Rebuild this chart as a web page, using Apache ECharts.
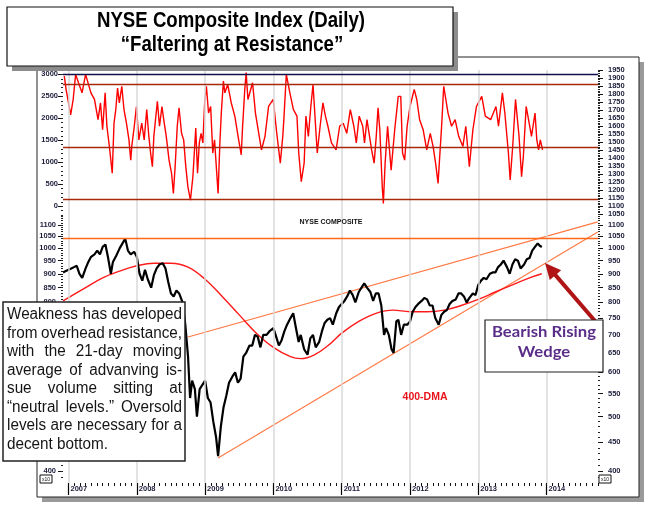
<!DOCTYPE html>
<html><head><meta charset="utf-8">
<script src="https://cdn.jsdelivr.net/npm/echarts@6/dist/echarts.min.js"></script>
<style>html,body{margin:0;padding:0;background:#fff}#c{width:648px;height:510px}</style>
</head><body><div id="c"></div>
<script>
// ---------------- DATA ----------------
const yearTicks = [2007, 2008, 2009, 2010, 2011, 2012, 2013, 2014];
const advLeftLabels = [0, 500, 1000, 1500, 2000, 2500, 3000];
const advRightLabels = [1050,1100,1150,1200,1250,1300,1350,1400,1450,1500,1550,1600,1650,1700,1750,1800,1850,1900,1950];
const priceLabels = [400,450,500,550,600,650,700,750,800,850,900,950,1000,1050,1100];

// 21-day MA of advancing issue volume (upper panel)
const advYears = [2006.938,2006.964,2007.000,2007.031,2007.068,2007.104,2007.146,2007.198,2007.250,2007.276,2007.328,2007.380,2007.432,2007.468,2007.499,2007.536,2007.562,2007.598,2007.640,2007.666,2007.692,2007.718,2007.744,2007.780,2007.812,2007.848,2007.885,2007.911,2007.926,2007.963,2007.994,2008.030,2008.072,2008.108,2008.145,2008.176,2008.202,2008.228,2008.249,2008.301,2008.332,2008.368,2008.394,2008.431,2008.472,2008.509,2008.535,2008.561,2008.592,2008.618,2008.655,2008.686,2008.717,2008.748,2008.785,2008.821,2008.863,2008.889,2008.915,2008.941,2008.967,2008.993,2009.019,2009.050,2009.081,2009.112,2009.138,2009.190,2009.216,2009.237,2009.268,2009.289,2009.331,2009.383,2009.435,2009.487,2009.529,2009.549,2009.581,2009.601,2009.627,2009.695,2009.737,2009.825,2009.877,2009.929,2009.997,2010.049,2010.101,2010.137,2010.153,2010.189,2010.241,2010.293,2010.345,2010.371,2010.408,2010.450,2010.476,2010.512,2010.548,2010.580,2010.642,2010.684,2010.725,2010.762,2010.798,2010.850,2010.918,2010.970,2011.022,2011.074,2011.126,2011.178,2011.214,2011.256,2011.308,2011.334,2011.370,2011.438,2011.475,2011.506,2011.532,2011.558,2011.594,2011.610,2011.636,2011.672,2011.724,2011.776,2011.828,2011.865,2011.891,2011.922,2011.958,2012.000,2012.062,2012.099,2012.141,2012.193,2012.245,2012.297,2012.338,2012.375,2012.411,2012.463,2012.494,2012.557,2012.609,2012.661,2012.713,2012.775,2012.817,2012.869,2012.921,2012.973,2013.051,2013.103,2013.181,2013.259,2013.296,2013.353,2013.389,2013.441,2013.467,2013.504,2013.545,2013.597,2013.634,2013.660,2013.701,2013.753,2013.779,2013.831,2013.857,2013.883,2013.909,2013.941];
const advValues = [2960,2660,2350,2080,2430,3000,2810,2580,3000,3040,2580,2430,1970,2350,1740,2580,1820,1360,750,1890,2200,2690,2350,2730,2200,1890,1510,1050,1360,1820,2270,1510,1890,1510,2200,1590,1210,900,1590,2390,1820,2270,1970,1590,1050,750,290,900,1820,2240,1660,1510,900,440,140,670,1780,750,1440,1660,1440,2350,2730,2120,2270,1210,1510,290,1440,2120,2850,2580,2770,2350,2050,1550,1170,1820,2660,3040,2430,2810,2120,1280,1590,2270,2430,1660,980,1590,1970,3000,2580,2200,2050,1210,560,980,2050,1590,2270,2770,1210,1820,2350,2050,1820,1440,1280,1820,1890,1660,2200,1820,1440,2050,1820,1440,1970,1280,980,1590,2240,1740,440,60,980,1820,820,1740,2500,2500,1210,1050,1820,2270,2660,2430,1970,1740,1280,1660,1360,980,520,1820,2730,2120,1820,1970,1590,1360,1820,900,1740,2270,2500,2050,1970,2270,1820,2580,2120,1210,600,1360,2430,1590,670,1130,2270,1820,1590,2120,1510,1280,1510,1280];
const advLevels = [3000, 2770, 1350, 160];

// NYSE Composite (x10), lower panel
const nyaYears = [2006.92,2006.96,2007.0,2007.04,2007.08,2007.12,2007.16,2007.2,2007.25,2007.29,2007.33,2007.38,2007.42,2007.46,2007.5,2007.54,2007.58,2007.62,2007.65,2007.7,2007.75,2007.79,2007.83,2007.87,2007.91,2007.96,2008.0,2008.04,2008.08,2008.12,2008.16,2008.21,2008.25,2008.29,2008.33,2008.38,2008.42,2008.46,2008.5,2008.54,2008.58,2008.62,2008.67,2008.71,2008.75,2008.78,2008.81,2008.85,2008.88,2008.92,2008.96,2009.0,2009.04,2009.08,2009.12,2009.16,2009.19,2009.23,2009.27,2009.31,2009.35,2009.4,2009.44,2009.48,2009.52,2009.56,2009.6,2009.65,2009.69,2009.73,2009.77,2009.81,2009.85,2009.9,2009.94,2010.0,2010.04,2010.08,2010.12,2010.16,2010.2,2010.25,2010.29,2010.33,2010.37,2010.4,2010.45,2010.5,2010.54,2010.58,2010.62,2010.67,2010.71,2010.75,2010.79,2010.83,2010.87,2010.92,2010.96,2011.0,2011.04,2011.08,2011.12,2011.16,2011.2,2011.25,2011.29,2011.33,2011.37,2011.42,2011.46,2011.5,2011.54,2011.58,2011.62,2011.65,2011.69,2011.73,2011.76,2011.8,2011.83,2011.87,2011.91,2011.96,2012.0,2012.04,2012.08,2012.12,2012.17,2012.21,2012.25,2012.29,2012.33,2012.37,2012.42,2012.46,2012.5,2012.54,2012.58,2012.62,2012.67,2012.71,2012.75,2012.79,2012.83,2012.87,2012.92,2012.96,2013.0,2013.04,2013.08,2013.12,2013.17,2013.21,2013.25,2013.29,2013.33,2013.37,2013.42,2013.46,2013.5,2013.54,2013.58,2013.62,2013.67,2013.71,2013.75,2013.79,2013.83,2013.87,2013.9,2013.93];
const nyaValues = [905,910,915,920,925,930,900,885,920,945,965,975,990,975,1005,1015,960,900,945,970,1000,1020,1040,990,975,985,
965,900,875,915,880,850,895,920,935,940,920,870,830,820,840,830,800,730,640,540,580,560,500,560,570,
580,540,530,490,460,425,480,520,545,575,590,600,575,585,640,650,670,670,700,695,665,700,700,710,
720,695,670,685,710,730,750,765,720,680,700,660,645,690,700,665,680,710,735,745,750,730,765,785,
795,805,820,840,825,800,835,850,865,850,835,805,830,830,790,700,720,700,660,650,740,745,700,730,730,
740,770,785,795,805,815,810,790,790,750,730,760,770,775,795,805,810,830,830,820,800,815,830,825,
860,875,885,880,900,905,905,925,935,950,925,900,935,955,950,920,935,955,960,990,1005,1020,1010,1005];

// 400-day moving average
const dmaYears = [2006.92,2007.25,2007.5,2007.75,2008.0,2008.25,2008.5,2008.75,2009.0,2009.25,2009.5,2009.75,2010.0,2010.25,2010.4,2010.6,2010.8,2011.0,2011.25,2011.5,2011.75,2012.0,2012.25,2012.5,2012.75,2013.0,2013.25,2013.5,2013.75,2013.93];
const dmaValues = [805,850,885,910,930,940,940,925,880,820,760,705,665,640,635,645,670,705,740,765,775,770,770,775,790,810,835,860,885,900];

// Trend lines
const resistanceValue = 1043;
const upperWedgeYears = [2008.75, 2014.75];
const upperWedgeValues = [694, 1114];
const lowerWedgeYears = [2009.19, 2014.75];
const lowerWedgeValues = [422, 1069];

// ---------------- CHART ----------------
const X_MIN = 2006.919, X_MAX = 2014.753;
function zip(a, b) { return a.map((v, i) => [v, b[i]]); }
function seq(a, b, s) { const r = []; for (let v = a; v <= b + 1e-9; v += s) r.push(Math.round(v * 1000) / 1000); return r; }
const monthTicks = [];
for (let y = 2006; y <= 2014; y++) for (let m = 0; m < 12; m++) { const v = y + m / 12; if (v >= X_MIN && v <= X_MAX) monthTicks.push(v); }

const AXF = { fontSize: 7.5, fontWeight: 'bold', fontFamily: "'Liberation Sans', Arial, sans-serif", color: '#1b1b3a' };
const fmt = v => String(Math.round(v));
function yAx(o) {
  return Object.assign({ axisLine: { show: false }, splitLine: { show: false }, axisTick: { show: false }, axisLabel: { show: false } }, o);
}
function majorY(grid, type, min, max, pos, labels, margin) {
  return yAx({ gridIndex: grid, type: type, min: min, max: max, position: pos, logBase: 10,
    axisTick: { show: true, customValues: labels, length: 5, lineStyle: { color: '#111', width: 1 } },
    axisLabel: Object.assign({ show: true, customValues: labels, formatter: fmt, margin: margin }, AXF) });
}
function minorY(grid, type, min, max, pos, vals) {
  return yAx({ gridIndex: grid, type: type, min: min, max: max, position: pos, logBase: 10,
    axisTick: { show: true, customValues: vals, length: 2, lineStyle: { color: '#222', width: 1 } } });
}
const ML = { symbol: ['none', 'none'], silent: true, animation: false, label: { show: false } };
const gridLineData = yearTicks.map(y => ({ xAxis: y }));

// text measuring
const mctx = document.createElement('canvas').getContext('2d');
function tw(s, font) { mctx.font = font; return mctx.measureText(s).width; }

const graphics = [];
// chart frame
graphics.push({ type: 'rect', z: -2, shape: { x: 42, y: 62, width: 602, height: 440 }, style: { fill: '#9a9a9a' } });
graphics.push({ type: 'rect', z: -1, shape: { x: 37, y: 57, width: 602, height: 440 }, style: { fill: '#fff', stroke: '#222', lineWidth: 1 } });
// title box
graphics.push({ type: 'rect', z: 99, shape: { x: 12, y: 12, width: 446, height: 59 }, style: { fill: '#8c8c8c' } });
graphics.push({ type: 'rect', z: 100, shape: { x: 7, y: 7, width: 446, height: 59 }, style: { fill: '#fff', stroke: '#111', lineWidth: 1.2 } });
const TFAM = "'Liberation Sans', Arial, sans-serif";
const t1 = 'NYSE Composite Index (Daily)', t2 = '\u201CFaltering at Resistance\u201D';
const tFont = 'bold 22.5px ' + TFAM;
const tScale = Math.min(1, 268 / tw(t1, tFont));
graphics.push({ type: 'text', z: 101, x: 231, y: 21, scaleX: tScale, style: { x: 0, y: 0, text: t1, font: tFont, fill: '#000', align: 'center', verticalAlign: 'middle' } });
graphics.push({ type: 'text', z: 101, x: 232, y: 45, scaleX: tScale, style: { x: 0, y: 0, text: t2, font: tFont, fill: '#000', align: 'center', verticalAlign: 'middle' } });

// annotation box with justified text
graphics.push({ type: 'rect', z: 100, shape: { x: 3, y: 302, width: 182, height: 159 }, style: { fill: '#fff', stroke: '#222', lineWidth: 1.5 } });
const noteLines = ['Weakness has developed', 'from overhead resistance,', 'with the 21-day moving', 'average of advanving is-', 'sue volume sitting at', '\u201Cneutral levels.\u201D Oversold', 'levels are necessary for a', 'decent bottom.'];
const NFAM = "'Liberation Sans', Arial, sans-serif";
const NX0 = 7, NW = 175;
const nSize = 16;
const nFont = nSize + 'px ' + NFAM;
let nScale = 1;
noteLines.slice(0, -1).forEach(l => {
  const ws = l.split(' ');
  const w = ws.reduce((s, x) => s + tw(x, nFont), 0);
  const avail = NW - (ws.length - 1) * 3.5;
  nScale = Math.min(nScale, avail / w);
});
const baselines = [320, 338.5, 357, 375.5, 394, 412.5, 431, 449.5];
noteLines.forEach((l, i) => {
  const ws = l.split(' ');
  const widths = ws.map(w => tw(w, nFont) * nScale);
  const total = widths.reduce((a, b) => a + b, 0);
  const last = i === noteLines.length - 1;
  const gap = last ? tw(' ', nFont) * nScale : (NW - total) / (ws.length - 1);
  let x = NX0;
  ws.forEach((w, j) => {
    graphics.push({ type: 'text', z: 101, x: x, y: baselines[i] - 5.2, scaleX: nScale, style: { x: 0, y: 0, text: w, font: nFont, fill: '#151515', align: 'left', verticalAlign: 'middle' } });
    x += widths[j] + gap;
  });
});

// wedge box
graphics.push({ type: 'rect', z: 100, shape: { x: 485, y: 320, width: 118, height: 52 }, style: { fill: '#fff', stroke: '#222', lineWidth: 1.2 } });
const WFAM = "Lato, 'DejaVu Sans', sans-serif";
const wFont = 'bold 15px ' + WFAM;
const wScale = 104 / tw('Bearish Rising', wFont);
graphics.push({ type: 'text', z: 101, x: 544, y: 332, scaleX: wScale, style: { x: 0, y: 0, text: 'Bearish Rising', font: wFont, fill: '#5a2e88', align: 'center', verticalAlign: 'middle' } });
graphics.push({ type: 'text', z: 101, x: 544, y: 352, scaleX: wScale, style: { x: 0, y: 0, text: 'Wedge', font: wFont, fill: '#5a2e88', align: 'center', verticalAlign: 'middle' } });

// arrow
(function () {
  const tail = [595, 321], tip = [545, 263];
  const dx = tip[0] - tail[0], dy = tip[1] - tail[1], L = Math.hypot(dx, dy);
  const ux = dx / L, uy = dy / L, nx = -uy, ny = ux;
  const hl = 16, hw = 7.5;
  const bx = tip[0] - ux * hl, by = tip[1] - uy * hl;
  graphics.push({ type: 'line', z: 60, shape: { x1: tail[0], y1: tail[1], x2: bx + ux * 2, y2: by + uy * 2 }, style: { stroke: '#b01414', lineWidth: 4 } });
  graphics.push({ type: 'polygon', z: 60, shape: { points: [[tip[0], tip[1]], [bx + nx * hw, by + ny * hw], [bx - nx * hw, by - ny * hw]] }, style: { fill: '#b01414' } });
})();

// labels
graphics.push({ type: 'text', z: 50, x: 425, y: 397, style: { text: '400-DMA', font: "bold 10.5px 'Liberation Sans', Arial, sans-serif", fill: '#e8141c', align: 'center', verticalAlign: 'middle' } });
let ncSize = 7.5 * 63 / tw('NYSE COMPOSITE', "bold 7.5px 'Liberation Sans', Arial, sans-serif");
graphics.push({ type: 'text', z: 50, x: 331, y: 222.5, style: { text: 'NYSE COMPOSITE', font: 'bold ' + ncSize + "px 'Liberation Sans', Arial, sans-serif", fill: '#111', align: 'center', verticalAlign: 'middle' } });
[40, 599].forEach(x => {
  graphics.push({ type: 'rect', z: 50, shape: { x: x, y: 475, width: 12, height: 8 }, style: { fill: '#fff', stroke: '#111', lineWidth: 1 } });
  graphics.push({ type: 'text', z: 51, x: x + 6, y: 479.5, style: { text: 'x10', font: "5px 'Liberation Sans', Arial, sans-serif", fill: '#111', align: 'center', verticalAlign: 'middle' } });
});

const chart = echarts.init(document.getElementById('c'), null, { renderer: 'canvas', width: 648, height: 510 });
chart.setOption({
  animation: false,
  backgroundColor: '#fff',
  grid: [
    { left: 63, right: 50, top: 70, height: 145 },
    { left: 63, right: 50, top: 215, height: 268 }
  ],
  xAxis: [
    { gridIndex: 0, type: 'value', min: X_MIN, max: X_MAX, axisLine: { show: false }, axisTick: { show: false }, axisLabel: { show: false }, splitLine: { show: false } },
    { gridIndex: 1, type: 'value', min: X_MIN, max: X_MAX, position: 'bottom', axisLine: { show: false }, splitLine: { show: false },
      axisTick: { show: true, customValues: yearTicks, length: 12, lineStyle: { color: '#000', width: 1.2 } },
      axisLabel: Object.assign({ show: true, customValues: yearTicks, formatter: fmt, align: 'left', verticalAlign: 'top', margin: 2, padding: [0, 0, 0, 2] }, AXF) },
    { gridIndex: 1, type: 'value', min: X_MIN, max: X_MAX, position: 'bottom', axisLine: { show: false }, splitLine: { show: false }, axisLabel: { show: false },
      axisTick: { show: true, customValues: monthTicks, length: 3, lineStyle: { color: '#111', width: 1 } } }
  ],
  yAxis: [
    majorY(0, 'value', -200, 3100, 'left', advLeftLabels, 5),
    minorY(0, 'value', -200, 3100, 'left', seq(-200, 3100, 100)),
    majorY(0, 'value', 1043.75, 1950, 'right', advRightLabels, 10),
    minorY(0, 'value', 1043.75, 1950, 'right', seq(1050, 1950, 10)),
    majorY(1, 'log', 380.7, 1146.1, 'left', priceLabels, 7),
    minorY(1, 'log', 380.7, 1146.1, 'left', seq(390, 1140, 10)),
    majorY(1, 'log', 380.7, 1146.1, 'right', priceLabels, 10),
    minorY(1, 'log', 380.7, 1146.1, 'right', seq(390, 1140, 10))
  ],
  series: [
    { type: 'line', xAxisIndex: 0, yAxisIndex: 0, data: [], z: 1, silent: true,
      markLine: Object.assign({}, ML, { lineStyle: { color: '#dadada', width: 1.5, type: 'solid' }, data: gridLineData }) },
    { type: 'line', xAxisIndex: 1, yAxisIndex: 4, data: [], z: 1, silent: true,
      markLine: Object.assign({}, ML, { lineStyle: { color: '#dadada', width: 1.5, type: 'solid' }, data: gridLineData }) },
    { name: 'adv', type: 'line', xAxisIndex: 0, yAxisIndex: 0, data: zip(advYears, advValues), showSymbol: false, symbol: 'none', z: 3,
      lineStyle: { color: '#ff0000', width: 1.4 },
      markLine: Object.assign({}, ML, { data: advLevels.map((v, i) => ({ yAxis: v, lineStyle: { color: i === 0 ? '#10104a' : '#a8280a', width: 1.3, type: 'solid' } })) }) },
    { name: 'resistance', type: 'line', xAxisIndex: 1, yAxisIndex: 4, data: [], z: 2, silent: true,
      markLine: Object.assign({}, ML, { data: [{ yAxis: resistanceValue }], lineStyle: { color: '#ff6a1a', width: 1.4, type: 'solid' } }) },
    { name: 'upperWedge', type: 'line', xAxisIndex: 1, yAxisIndex: 4, data: zip(upperWedgeYears, upperWedgeValues), symbol: 'none', z: 2,
      lineStyle: { color: '#ff7a45', width: 1.2 } },
    { name: 'lowerWedge', type: 'line', xAxisIndex: 1, yAxisIndex: 4, data: zip(lowerWedgeYears, lowerWedgeValues), symbol: 'none', z: 2,
      lineStyle: { color: '#ff7a45', width: 1.2 } },
    { name: '400-DMA', type: 'line', xAxisIndex: 1, yAxisIndex: 4, data: zip(dmaYears, dmaValues), symbol: 'none', smooth: 0.4, z: 3,
      lineStyle: { color: '#ff1a1a', width: 1.4 } },
    { name: 'NYSE', type: 'line', xAxisIndex: 1, yAxisIndex: 4, data: zip(nyaYears, nyaValues), symbol: 'none', z: 4,
      lineStyle: { color: '#000', width: 2.2 } }
  ],
  graphic: { elements: graphics }
});
</script>
</body></html>
